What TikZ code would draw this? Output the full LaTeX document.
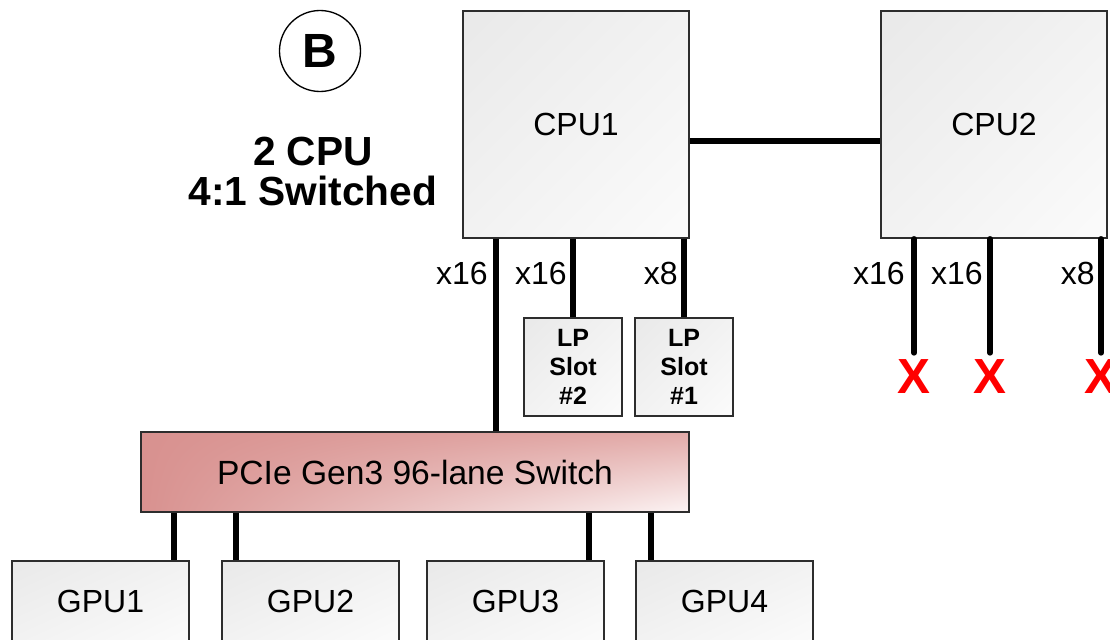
\documentclass[tikz,border=0pt]{standalone}
\usepackage{fontspec}
\setmainfont{Liberation Sans}
\usetikzlibrary{positioning,shadings}
\definecolor{boxline}{RGB}{45,45,45}
\definecolor{boxdark}{RGB}{233,233,233}
\definecolor{boxmid}{RGB}{242,242,242}
\definecolor{boxlight}{RGB}{251,251,251}
\definecolor{swdark}{RGB}{216,145,143}
\definecolor{swmid}{RGB}{226,170,168}
\definecolor{swlight}{RGB}{252,244,244}
\tikzset{
  box/.style={draw=boxline, line width=1.3pt, inner sep=0pt, shading=bilinear interpolation,
    upper left=boxdark, upper right=boxmid, lower left=boxmid, lower right=boxlight,
    font=\fontsize{24}{28}\selectfont},
  cpubox/.style={box, minimum width=169.5pt, minimum height=170.25pt},
  slotbox/.style={box, minimum width=73.5pt, minimum height=73.5pt, align=center,
    font=\bfseries\fontsize{18.75}{21.75}\selectfont},
  gpubox/.style={box, minimum width=132.75pt, minimum height=60pt},
  switchbox/.style={box, minimum width=411pt, minimum height=60pt,
    upper left=swdark, upper right=swmid, lower left=swdark, lower right=swlight,
    font=\fontsize{25.2}{28}\selectfont},
  link/.style={line width=4.2pt, black},
  lane/.style={inner sep=0pt, anchor=east, font=\fontsize{24}{28}\selectfont},
  cross/.style={inner sep=0pt, text=red, font=\bfseries\fontsize{37}{37}\selectfont}
}
\begin{document}
\begin{tikzpicture}[x=0.75pt, y=-0.75pt]
  \useasboundingbox (0,0) rectangle (1110,639);
  \clip (0,0) rectangle (1110,639);
  % title and badge
  \node[draw, circle, line width=1pt, minimum size=60.75pt, inner sep=0pt,
    font=\bfseries\fontsize{36}{36}\selectfont] (badge) at (320,51) {B};
  \node[inner sep=0pt, align=center, font=\bfseries\fontsize{30.5}{30}\selectfont]
    (title) at (313,171) {2 CPU\\4:1 Switched};
  % processors
  \node[cpubox] (cpu1) at (576,124.5) {CPU1};
  \node[cpubox] (cpu2) at (994,124.5) {CPU2};
  \draw[link] ([yshift=-12.2pt]cpu1.east) -- ([yshift=-12.2pt]cpu2.west);
  \foreach \n/\d in {a/25.5pt, b/82.5pt, c/165.75pt} {
    \coordinate (c1\n) at ([xshift=\d]cpu1.south west);
    \coordinate (c2\n) at ([xshift=\d]cpu2.south west);
  }
  % low profile slots
  \node[slotbox] (slot2) at (573,367) {LP\\Slot\\\#2};
  \node[slotbox] (slot1) at (684,367) {LP\\Slot\\\#1};
  \draw[link] (slot2.north |- c1b) -- (slot2.north);
  \draw[link] (slot1.north |- c1c) -- (slot1.north);
  % switch and gpus
  \node[switchbox] (sw) at (415,472) {PCIe Gen3 96-lane Switch};
  \draw[link] (c1a) -- (c1a |- sw.north);
  \node[gpubox] (gpu1) at (100.5,601) {GPU1};
  \node[gpubox] (gpu2) at (310.5,601) {GPU2};
  \node[gpubox] (gpu3) at (515.5,601) {GPU3};
  \node[gpubox] (gpu4) at (724.5,601) {GPU4};
  \coordinate (g1) at ([xshift=-12pt]gpu1.north east);
  \coordinate (g2) at ([xshift=11.25pt]gpu2.north west);
  \coordinate (g3) at ([xshift=-12pt]gpu3.north east);
  \coordinate (g4) at ([xshift=12pt]gpu4.north west);
  \foreach \g in {g1,g2,g3,g4}
    \draw[link] (\g |- sw.south) -- (\g);
  % unused lanes of cpu2
  \foreach \n [count=\i] in {a,b,c} {
    \path (c2\n) ++(0,114) coordinate (e\i);
    \draw[link, line cap=round] (c2\n) -- (e\i);
    \node[cross, below=4.5pt of e\i] (x\i) {X};
  }
  % lane widths
  \node[lane] (l1) at (488,273) {x16};
  \node[lane] (l2) at (567,273) {x16};
  \node[lane] (l3) at (678,273) {x8};
  \node[lane] (l4) at (905,273) {x16};
  \node[lane] (l5) at (983,273) {x16};
  \node[lane] (l6) at (1095,273) {x8};
\end{tikzpicture}
\end{document}
